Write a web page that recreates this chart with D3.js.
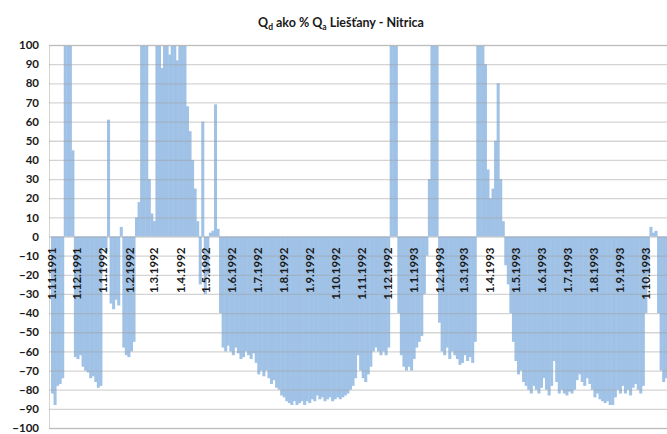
<!DOCTYPE html>
<html>
<head>
<meta charset="utf-8">
<script src="https://cdn.jsdelivr.net/npm/d3@7"></script>
<style>
  html, body { margin: 0; padding: 0; background: #ffffff; }
  svg { display: block; }
  text { font-family: "Lato", "Open Sans", sans-serif; font-weight: 700; fill: #1a1a1a; }
</style>
</head>
<body>
<svg id="chart" width="667" height="434"></svg>
<script>
// ---- data ----
const titleParts = [["Q", ""], ["d", "sub"], [" ako % Q", ""], ["a", "sub"], [" Liešťany - Nitrica", ""]];
const startDate = "1.11.1991";
const endDate = "1.11.1993";
const stepDays = 3;
// Q_d as % of Q_a, one value every 3 days from 1.11.1991
const values = [
  -82, -88, -78, -77, -74, 100, 100, 100, 45, -63,
  -64, -62, -68, -70, -71, -74, -73, -76, -79, -78,
  -6, -8, 61, -35, -38, -33, -36, 5, -58, -62,
  -63, -60, -55, 10, 18, 100, 100, 100, 30, 12,
  8, 100, 100, 88, 100, 100, 95, 100, 100, 92,
  100, 100, 100, 68, 55, 40, 25, 8, -25, 60,
  -30, -20, 2, 3, 69, 4, -40, -58, -60, -57,
  -60, -62, -58, -61, -64, -63, -60, -62, -64, -61,
  -66, -72, -70, -73, -70, -74, -77, -75, -79, -80,
  -83, -84, -86, -87, -88, -86, -88, -87, -86, -88,
  -86, -87, -85, -86, -83, -85, -84, -86, -85, -84,
  -86, -85, -84, -85, -84, -83, -82, -80, -78, -74,
  -62, -70, -74, -76, -72, -68, -60, -58, -60, -62,
  -60, -62, -58, 100, 100, 100, -40, -62, -68, -70,
  -68, -70, -64, -58, -55, -52, -30, -10, 30, 100,
  100, 100, -45, -60, -62, -58, -64, -60, -62, -64,
  -67, -66, -62, -65, -63, -66, -55, 100, 100, 100,
  90, 35, 20, 25, 50, 80, 30, 8, -15, -25,
  -40, -55, -65, -72, -70, -76, -78, -80, -82, -78,
  -80, -82, -79, -74, -80, -83, -78, -65, -76, -82,
  -80, -82, -83, -81, -82, -80, -75, -72, -76, -78,
  -74, -77, -80, -84, -82, -85, -86, -87, -86, -88,
  -88, -84, -80, -82, -78, -82, -80, -83, -79, -77,
  -80, -82, -78, -40, -20, 5, 2, 3, -40, -70,
  -76, -74, -72, -70
];
const tickLabels = [
  "1.11.1991", "1.12.1991", "1.1.1992", "1.2.1992", "1.3.1992", "1.4.1992",
  "1.5.1992", "1.6.1992", "1.7.1992", "1.8.1992", "1.9.1992", "1.10.1992",
  "1.11.1992", "1.12.1992", "1.1.1993", "1.2.1993", "1.3.1993", "1.4.1993",
  "1.5.1993", "1.6.1993", "1.7.1993", "1.8.1993", "1.9.1993", "1.10.1993"
];
const yTicks = [-100, -90, -80, -70, -60, -50, -40, -30, -20, -10, 0, 10, 20, 30, 40, 50, 60, 70, 80, 90, 100];

// ---- chart ----
const svg = d3.select("#chart");
const parse = d3.utcParse("%d.%m.%Y");
const t0 = parse(startDate), t1 = parse(endDate);

const x = d3.scaleUtc().domain([t0, t1]).range([51, 671.5]);
const y = d3.scaleLinear().domain([-100, 100]).range([428, 45]);

const data = values.map((v, i) => ({ date: d3.utcDay.offset(t0, i * stepDays), value: v }));

// bars
svg.append("g").selectAll("rect").data(data).join("rect")
  .attr("x", d => x(d.date))
  .attr("width", d => x(d3.utcDay.offset(d.date, stepDays)) - x(d.date) + 0.5)
  .attr("y", d => Math.min(y(d.value), y(0)))
  .attr("height", d => Math.abs(y(d.value) - y(0)))
  .attr("fill", "#a0c2e6");

// gridlines (on top, light)
const yAxis = d3.axisLeft(y).tickValues(yTicks).tickSize(-(667 - 49)).tickFormat(d3.format("d")).tickPadding(10);
const gy = svg.append("g").attr("transform", "translate(49,0)").call(yAxis);
gy.select(".domain").attr("stroke", "#d4d4d4").attr("stroke-width", 1);
gy.selectAll(".tick line").attr("stroke", "rgba(160,160,160,0.45)").attr("stroke-width", 1.3);
gy.selectAll(".tick text").attr("font-size", 11.5).attr("font-family", "Lato, sans-serif").attr("font-weight", 700).attr("fill", "#1a1a1a");

// x labels
const xAxis = d3.axisBottom(x).tickValues(tickLabels.map(parse)).tickSize(0)
  .tickFormat((d, i) => tickLabels[i]);
const gx = svg.append("g").attr("transform", `translate(0,${y(0)})`).call(xAxis);
gx.select(".domain").remove();
gx.selectAll(".tick text")
  .attr("transform", "rotate(-90)")
  .attr("x", -11).attr("y", 0).attr("dy", "0.35em")
  .attr("text-anchor", "end")
  .attr("font-size", 11.5).attr("font-family", "Lato, sans-serif").attr("font-weight", 700).attr("fill", "#1a1a1a");

// title
const title = svg.append("text").attr("x", 341).attr("y", 27).attr("text-anchor", "middle").attr("font-size", 12.5);
titleParts.forEach(([s, kind]) => {
  const ts = title.append("tspan").text(s);
  if (kind === "sub") ts.attr("font-size", 8.5).attr("dy", 3);
  else ts.attr("dy", title.selectAll("tspan").size() > 1 ? -3 : 0);
});
</script>
</body>
</html>
